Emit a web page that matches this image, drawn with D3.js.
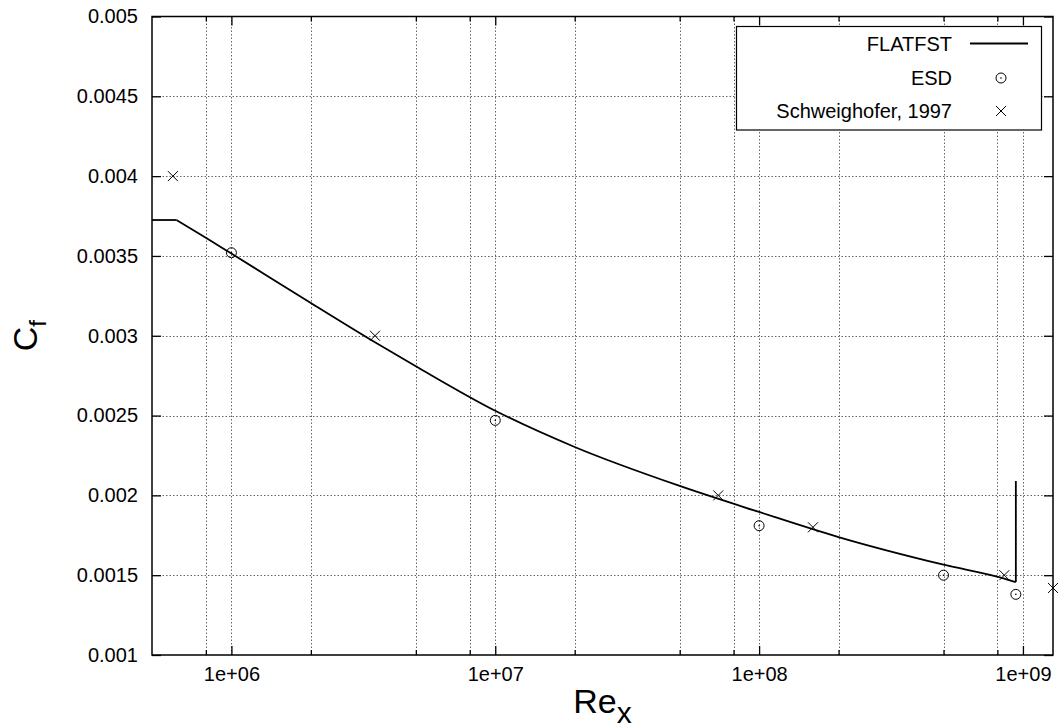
<!DOCTYPE html>
<html>
<head>
<meta charset="utf-8">
<script src="https://cdn.jsdelivr.net/npm/d3@7"></script>
<style>
  html, body { margin: 0; padding: 0; background: #fff; }
  svg { display: block; font-family: "Liberation Sans", Arial, Helvetica, sans-serif; }
</style>
</head>
<body>
<svg id="chart" width="1059" height="728"></svg>
<script>
// FLATFST skin-friction curve (local Reynolds number vs Cf)
const flatRe = [5e5, 6.2e5, 8e5, 1e6, 2e6, 3.5e6, 5e6, 1e7, 2e7, 5e7, 1e8, 2e8, 5e8, 8.5e8, 9.4e8, 9.4e8];
const flatCf = [0.003725, 0.003725, 0.003614, 0.003515, 0.003205, 0.002959, 0.002809, 0.00253, 0.002303, 0.002059, 0.001896, 0.001739, 0.001566, 0.001479, 0.001457, 0.00209];

// ESD reference values
const esdRe = [1e6, 1e7, 1e8, 5e8, 9.4e8];
const esdCf = [0.00352, 0.00247, 0.00181, 0.0015, 0.00138];

// Schweighofer, 1997 measurements
const schRe = [6e5, 3.5e6, 7e7, 1.6e8, 8.5e8, 1.3e9];
const schCf = [0.004, 0.003, 0.002, 0.0018, 0.0015, 0.00142];

// axis ticks
const xMajor = [1e6, 1e7, 1e8, 1e9];
const xMinor = [8e5, 2e6, 5e6, 8e6, 2e7, 5e7, 8e7, 2e8, 5e8, 8e8];
const xTickLabels = ["1e+06", "1e+07", "1e+08", "1e+09"];
const yTicks = [0.001, 0.0015, 0.002, 0.0025, 0.003, 0.0035, 0.004, 0.0045, 0.005];
const yTickLabels = ["0.001", "0.0015", "0.002", "0.0025", "0.003", "0.0035", "0.004", "0.0045", "0.005"];

const legendLabels = ["FLATFST", "ESD", "Schweighofer, 1997"];

const svg = d3.select("#chart");
const L = 152, R = 1053, T = 16.5, B = 655;

const x = d3.scaleLog().domain([5e5, 1.3e9]).range([L, R]);
const y = d3.scaleLinear().domain([0.001, 0.005]).range([B, T]);

const gridStyle = sel => sel.attr("stroke", "#666").attr("stroke-width", 1)
  .attr("stroke-dasharray", "1.5,2").attr("fill", "none");

// grid
const grid = svg.append("g");
grid.selectAll("line.gx").data(xMajor.concat(xMinor)).join("line")
  .attr("x1", d => Math.round(x(d)) + 0.5).attr("x2", d => Math.round(x(d)) + 0.5)
  .attr("y1", T).attr("y2", B).call(gridStyle);
grid.selectAll("line.gy").data(yTicks.slice(1, -1)).join("line")
  .attr("y1", d => Math.round(y(d)) + 0.5).attr("y2", d => Math.round(y(d)) + 0.5)
  .attr("x1", L).attr("x2", R).call(gridStyle);

// axes (ticks point inward, mirrored on top/right)
const fmtX = d => xTickLabels[xMajor.indexOf(d)];
const fmtY = d => yTickLabels[yTicks.indexOf(d)];

function styleAxis(g) {
  g.select(".domain").remove();
  g.selectAll(".tick line").attr("stroke", "#000").attr("stroke-width", 1.3);
  g.selectAll(".tick text").attr("fill", "#000").style("font-size", "20px")
    .style("font-family", "'Liberation Sans', Arial, sans-serif");
}

svg.append("g").attr("transform", `translate(0,${B})`)
  .call(d3.axisBottom(x).tickValues(xMajor).tickFormat(fmtX).tickSizeInner(-9).tickSizeOuter(0).tickPadding(12))
  .call(styleAxis);
svg.append("g").attr("transform", `translate(0,${B})`)
  .call(d3.axisBottom(x).tickValues(xMinor).tickFormat("").tickSizeInner(-5).tickSizeOuter(0))
  .call(styleAxis);
svg.append("g").attr("transform", `translate(0,${T})`)
  .call(d3.axisTop(x).tickValues(xMajor).tickFormat("").tickSizeInner(-9).tickSizeOuter(0))
  .call(styleAxis);
svg.append("g").attr("transform", `translate(0,${T})`)
  .call(d3.axisTop(x).tickValues(xMinor).tickFormat("").tickSizeInner(-5).tickSizeOuter(0))
  .call(styleAxis);
svg.append("g").attr("transform", `translate(${L},0)`)
  .call(d3.axisLeft(y).tickValues(yTicks).tickFormat(fmtY).tickSizeInner(-9).tickSizeOuter(0).tickPadding(14))
  .call(styleAxis);
svg.append("g").attr("transform", `translate(${R},0)`)
  .call(d3.axisRight(y).tickValues(yTicks).tickFormat("").tickSizeInner(-9).tickSizeOuter(0))
  .call(styleAxis);

// legend box (opaque)
const lg = svg.append("g");
lg.append("rect").attr("x", 736.5).attr("y", 26.5).attr("width", 305).attr("height", 103.5)
  .attr("fill", "#fff").attr("stroke", "#000").attr("stroke-width", 1.2);

// FLATFST curve: flat laminar start, smooth turbulent part, then the end jump
const n = flatRe.length;
const idx = d3.range(n);
const px = i => x(flatRe[i]), py = i => y(flatCf[i]);
const curveStyle = p => p.attr("fill", "none").attr("stroke", "#000").attr("stroke-width", 1.8)
  .attr("stroke-linejoin", "miter");
const straight = d3.line().x(px).y(py);
const smooth = d3.line().x(px).y(py).curve(d3.curveMonotoneX);
svg.append("path").attr("d", straight(idx.slice(0, 2))).call(curveStyle);
svg.append("path").attr("d", smooth(idx.slice(1, n - 1))).call(curveStyle);
svg.append("path").attr("d", straight(idx.slice(n - 2))).call(curveStyle);

// markers
function circleMark(g, cx, cy) {
  g.append("circle").attr("cx", cx).attr("cy", cy).attr("r", 5)
    .attr("fill", "none").attr("stroke", "#000").attr("stroke-width", 1);
  g.append("circle").attr("cx", cx).attr("cy", cy).attr("r", 0.8).attr("fill", "#000");
}
function crossMark(g, cx, cy) {
  const s = 5;
  g.append("path").attr("d", `M${cx - s},${cy - s}L${cx + s},${cy + s}M${cx - s},${cy + s}L${cx + s},${cy - s}`)
    .attr("stroke", "#000").attr("stroke-width", 1).attr("fill", "none");
}
const marks = svg.append("g");
esdRe.forEach((r, i) => circleMark(marks, x(r), y(esdCf[i])));
schRe.forEach((r, i) => crossMark(marks, x(r), y(schCf[i])));

// legend entries
const rowY = [43.5, 78, 111];
legendLabels.forEach((t, i) => {
  lg.append("text").attr("x", 952).attr("y", rowY[i]).attr("dy", "0.35em")
    .attr("text-anchor", "end").style("font-size", "20px").attr("fill", "#000").text(t);
});
lg.append("line").attr("x1", 970).attr("x2", 1028).attr("y1", rowY[0]).attr("y2", rowY[0])
  .attr("stroke", "#000").attr("stroke-width", 1.8);
circleMark(lg, 1001, rowY[1]);
crossMark(lg, 1001, rowY[2]);

// border
svg.append("rect").attr("x", L).attr("y", T).attr("width", R - L).attr("height", B - T)
  .attr("fill", "none").attr("stroke", "#000").attr("stroke-width", 1.5);

// axis titles
const xt = svg.append("text").attr("x", (L + R) / 2).attr("y", 713).attr("text-anchor", "middle")
  .style("font-size", "34px").attr("fill", "#000");
xt.append("tspan").text("Re");
xt.append("tspan").attr("dy", 10).style("font-size", "30px").text("x");

const yt = svg.append("text").attr("transform", `translate(37,${(T + B) / 2}) rotate(-90)`)
  .attr("text-anchor", "middle").style("font-size", "34px").attr("fill", "#000");
yt.append("tspan").text("C");
yt.append("tspan").attr("dy", 9).style("font-size", "24px").text("f");
</script>
</body>
</html>
